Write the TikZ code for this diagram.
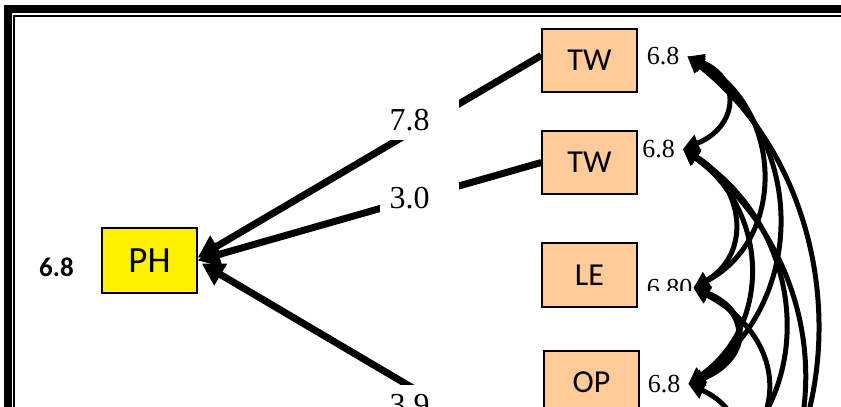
\documentclass[tikz,border=0pt]{standalone}
\usepackage{fontspec}
\setmainfont{Liberation Serif}
\newfontfamily\boxfont{Carlito}
\usetikzlibrary{arrows.meta}
\definecolor{peach}{RGB}{255,204,153}

\begin{document}
\begin{tikzpicture}[x=1pt, y=-1pt,
    factor/.style ={rectangle, draw, line width=1.5pt, fill=peach, minimum width=95pt, minimum height=63pt, font=\boxfont\fontsize{32}{32}\selectfont},
    coef/.style ={fill=white, text width=60pt, align=left, inner xsep=9.75pt, minimum height=40pt, font=\fontsize{32}{32}\selectfont},
    mean/.style ={inner xsep=8pt, inner ysep=2pt, font=\fontsize{26}{26}\selectfont},
    effect/.style ={line width=7pt, -{Triangle[length=22pt, width=24pt]}},
    corr/.style ={line width=5pt, {Triangle[length=16pt, width=17pt]}-{Triangle[length=16pt, width=17pt]}}]
   \useasboundingbox (0,0) rectangle (841,407);
   \clip (0,0) rectangle (841,407);

   % double frame
   \draw[line width=8pt] (8,9) rectangle (900,500);
   \draw[line width=2pt] (14,16) rectangle (890,490);

   \node[factor, fill=yellow, minimum height=65pt, font=\boxfont\fontsize{37}{37}\selectfont] (ph) at (149.5,260.5) {PH};
   \node[font=\boxfont\bfseries\fontsize{27}{27}\selectfont] (phmean) at (56.5,267.5) {6.8};

   \node[factor] (tw1) at (589.5,60.5) {TW};
   \node[factor] (tw2) at (589.5,162.5) {TW};
   \node[factor, minimum height=64pt] (le) at (589.5,275) {LE};
   \node[factor] (op) at (591.5,382.5) {OP};
   \coordinate (src) at (545,466);

   \draw[effect] ([yshift=5pt]tw1.west) -- ([yshift=3pt]ph.east);
   \draw[effect] (tw2.west) -- (ph.east);
   \draw[effect] (src) -- ([xshift=4pt,yshift=-3pt]ph.east);

   \node[coef] (c1) at (419.5,120) {7.8};
   \node[coef] (c2) at (419.5,198) {3.0};
   \node[coef] (c3) at (419.5,405) {3.9};

   \node[mean] (v1) at (663,56.5) {6.8};
   \node[mean] (v2) at (658.5,149) {6.8};
   \begin{scope}
     \clip (640,260) rectangle (700,290);
     \node[mean, inner xsep=1pt] (v3) at (669.5,288) {6.80};
   \end{scope}
   \node[mean] (v4) at (664,384) {6.8};
   \coordinate (v5) at (697,480);
   \coordinate (v6) at (697,580);

   % correlations
   \draw[corr] (v1.east) .. controls +(55,22) and +(55,-22) .. (v2.east);
   \draw[corr] (v1.east) .. controls +(95,50) and +(95,-50) .. (v3.east);
   \draw[corr] (v1.east) .. controls +(120,80) and +(120,-80) .. (v4.east);
   \draw[corr] (v1.east) .. controls +(165,130) and +(165,-130) .. (v6);
   \draw[corr] (v2.east) .. controls +(60,35) and +(60,-35) .. (v3.east);
   \draw[corr] (v2.east) .. controls +(85,60) and +(85,-60) .. (v4.east);
   \draw[corr] (v2.east) .. controls +(125,80) and +(125,-80) .. (v5);
   \draw[corr] (v2.east) .. controls +(150,110) and +(150,-110) .. (v6);
   \draw[corr, line width=6.5pt] (v3.east) .. controls +(60,25) and +(60,-25) .. (v4.east);
   \draw[corr] (v3.east) .. controls +(95,50) and +(95,-50) .. (v5);
   \draw[corr] (v4.east) .. controls +(55,25) and +(55,-25) .. (v5);
\end{tikzpicture}
\end{document}
